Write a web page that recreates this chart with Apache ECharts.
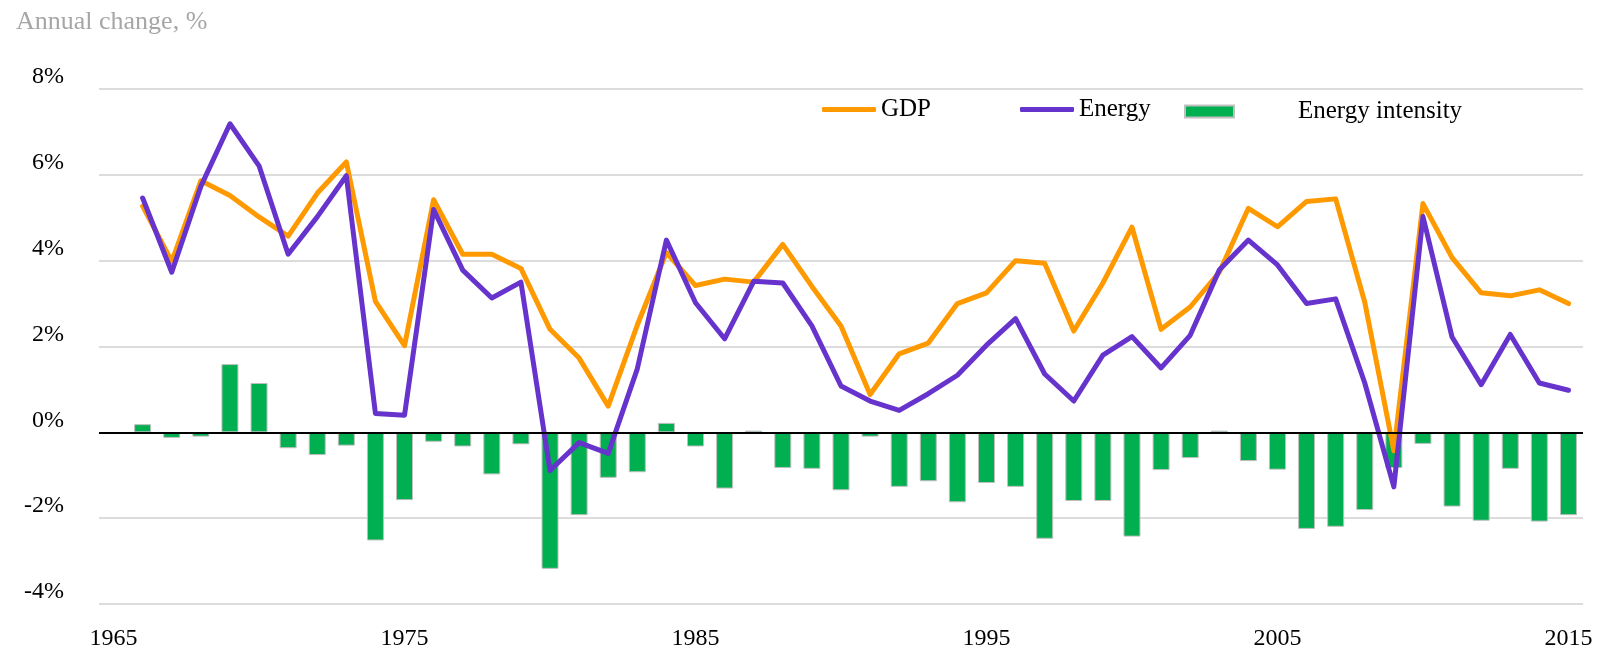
<!DOCTYPE html>
<html>
<head>
<meta charset="utf-8">
<script src="https://cdn.jsdelivr.net/npm/echarts@6/dist/echarts.min.js"></script>
<style>
  html, body { margin: 0; padding: 0; background: #fff; }
  #main { width: 1608px; height: 653px; }
</style>
</head>
<body>
<div id="main"></div>
<script>
// годы по оси X (1965 - пустая категория, данные с 1966)
const years = [];
for (let y = 1965; y <= 2015; y++) years.push(String(y));

// рост ВВП, %
const gdp = [null,
  5.27, 3.98, 5.86, 5.52, 5.02, 4.57, 5.57, 6.30, 3.05, 2.02,
  5.42, 4.15, 4.15, 3.82, 2.40, 1.73, 0.61, 2.50, 4.19, 3.42,
  3.57, 3.50, 4.38, 3.40, 2.48, 0.88, 1.83, 2.08, 3.00, 3.25,
  4.00, 3.94, 2.36, 3.48, 4.78, 2.40, 2.92, 3.73, 5.22, 4.79,
  5.38, 5.44, 3.03, -0.43, 5.33, 4.07, 3.25, 3.18, 3.32, 3.00];

// рост потребления энергии, %
const energy = [null,
  5.46, 3.73, 5.73, 7.19, 6.21, 4.15, 5.02, 5.98, 0.44, 0.40,
  5.19, 3.78, 3.13, 3.50, -0.89, -0.24, -0.49, 1.48, 4.48, 3.02,
  2.18, 3.52, 3.48, 2.48, 1.08, 0.73, 0.51, 0.90, 1.33, 2.03,
  2.65, 1.36, 0.73, 1.80, 2.23, 1.50, 2.26, 3.78, 4.48, 3.90,
  3.00, 3.11, 1.15, -1.27, 5.03, 2.22, 1.11, 2.28, 1.15, 0.98];

// энергоёмкость, %
const intensity = [null,
  0.19, -0.13, -0.10, 1.59, 1.15, -0.37, -0.53, -0.31, -2.52, -1.58,
  -0.22, -0.33, -0.98, -0.28, -3.18, -1.93, -1.06, -0.93, 0.22, -0.33,
  -1.31, 0.04, -0.83, -0.85, -1.35, -0.10, -1.27, -1.14, -1.63, -1.18,
  -1.27, -2.48, -1.60, -1.60, -2.43, -0.88, -0.60, 0.04, -0.67, -0.87,
  -2.25, -2.20, -1.81, -0.83, -0.27, -1.73, -2.06, -0.85, -2.08, -1.93];

const yTicks = {min: -4, max: 8, interval: 2};

const font = 'Liberation Serif';
let chart = echarts.init(document.getElementById('main'));

const legendText = {fontFamily: font, fontSize: 25, color: '#000', padding: [0, 0, 24, 0]};

const option = {
    animation: false,
    title: {
        text: 'Annual change, %',
        left: 11,
        top: 4,
        textStyle: {fontFamily: font, fontSize: 26, fontWeight: 'normal', color: '#a6a6a6'}
    },
    legend: [
        {
            data: ['GDP'], left: 822, top: 97, padding: 0,
            icon: 'roundRect', itemWidth: 54, itemHeight: 5,
            textStyle: legendText
        },
        {
            data: ['Energy'], left: 1020, top: 97, padding: 0,
            icon: 'roundRect', itemWidth: 54, itemHeight: 5,
            textStyle: legendText
        },
        {
            data: ['Energy intensity'], left: 1184, top: 99, padding: 0,
            icon: 'rect', itemWidth: 49, itemHeight: 12,
            textStyle: Object.assign({}, legendText, {padding: [0, 0, 24, 59]})
        }
    ],
    grid: {left: 99, right: 25, top: 89, bottom: 49},
    xAxis: {
        type: 'category',
        data: years,
        boundaryGap: true,
        axisLine: {show: false, onZero: false},
        axisTick: {show: false},
        axisLabel: {
            interval: 9,
            margin: 23,
            fontFamily: font,
            fontSize: 24,
            color: '#000'
        }
    },
    yAxis: {
        type: 'value',
        min: yTicks.min,
        max: yTicks.max,
        interval: yTicks.interval,
        axisLine: {show: false},
        axisTick: {show: false},
        splitLine: {lineStyle: {color: '#d0d0d0', width: 1.5}},
        axisLabel: {
            formatter: '{value}%',
            margin: 35,
            verticalAlign: 'bottom',
            fontFamily: font,
            fontSize: 24,
            color: '#000'
        }
    },
    series: [
        {
            name: 'Energy intensity',
            type: 'bar',
            data: intensity,
            barWidth: 17,
            itemStyle: {color: '#00b050', borderColor: '#bfbfbf', borderWidth: 1},
            markLine: {
                silent: true,
                symbol: 'none',
                label: {show: false},
                lineStyle: {color: '#000', width: 2, type: 'solid'},
                data: [{yAxis: 0}]
            }
        },
        {
            name: 'GDP',
            type: 'line',
            data: gdp,
            showSymbol: false,
            color: '#ff9900',
            lineStyle: {color: '#ff9900', width: 5, cap: 'round', join: 'round'}
        },
        {
            name: 'Energy',
            type: 'line',
            data: energy,
            showSymbol: false,
            color: '#6633cc',
            lineStyle: {color: '#6633cc', width: 5, cap: 'round', join: 'round'}
        }
    ]
};
chart.setOption(option);
</script>
</body>
</html>
